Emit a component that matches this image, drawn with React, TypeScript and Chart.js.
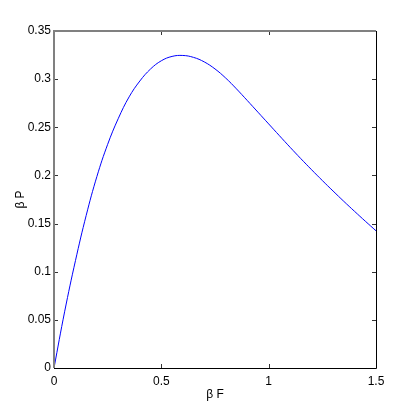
import React, { useEffect, useRef } from "react";
import { Chart, registerables } from "chart.js";

Chart.register(...registerables);

const betaF = [0, 0.05, 0.1, 0.15, 0.2, 0.25, 0.3, 0.35, 0.4, 0.45, 0.5, 0.55, 0.6, 0.65, 0.7, 0.75, 0.8, 0.85, 0.9, 0.95, 1.0, 1.05, 1.1, 1.15, 1.2, 1.25, 1.3, 1.35, 1.4, 1.45, 1.5];
const betaP = [0, 0.059, 0.1115, 0.1585, 0.199, 0.2323, 0.2594, 0.2816, 0.2981, 0.3106, 0.3191, 0.3236, 0.3246, 0.3226, 0.3179, 0.3106, 0.3011, 0.2899, 0.2779, 0.2657, 0.2535, 0.2413, 0.2292, 0.2174, 0.2059, 0.1947, 0.1838, 0.1731, 0.1627, 0.1525, 0.1425];

const xTicks = [0, 0.5, 1, 1.5];
const xTickLabels = ["0", "0.5", "1", "1.5"];
const yTicks = [0, 0.05, 0.1, 0.15, 0.2, 0.25, 0.3, 0.35];
const yTickLabels = ["0", "0.05", "0.1", "0.15", "0.2", "0.25", "0.3", "0.35"];

const FONT = "'Liberation Sans Narrow', 'Liberation Sans', Arial, sans-serif";

const framePlugin = {
  id: "frame",
  afterDraw(chart: any) {
    const { ctx, chartArea } = chart;
    const { left, right, top, bottom } = chartArea;
    const xs = chart.scales.x;
    const ys = chart.scales.y;
    ctx.save();
    const tl = 4;
    ctx.strokeStyle = "#333";
    ctx.lineWidth = 1;
    ctx.beginPath();
    xTicks.forEach((v) => {
      const px = Math.round(xs.getPixelForValue(v)) + 0.5;
      ctx.moveTo(px, bottom);
      ctx.lineTo(px, bottom - tl);
      ctx.moveTo(px, top);
      ctx.lineTo(px, top + tl);
    });
    yTicks.forEach((v) => {
      const py = Math.round(ys.getPixelForValue(v)) + 0.5;
      ctx.moveTo(left, py);
      ctx.lineTo(left + tl, py);
      ctx.moveTo(right, py);
      ctx.lineTo(right - tl, py);
    });
    ctx.stroke();
    ctx.strokeStyle = "#808080";
    ctx.lineWidth = 2;
    ctx.beginPath();
    ctx.moveTo(left, bottom);
    ctx.lineTo(left, top);
    ctx.lineTo(right, top);
    ctx.stroke();
    ctx.strokeStyle = "#000";
    ctx.lineWidth = 1;
    ctx.beginPath();
    ctx.moveTo(Math.round(right) + 0.5, top);
    ctx.lineTo(Math.round(right) + 0.5, Math.round(bottom) + 0.5);
    ctx.lineTo(left, Math.round(bottom) + 0.5);
    ctx.stroke();
    ctx.restore();
  },
};

export default function App() {
  const ref = useRef<HTMLCanvasElement | null>(null);

  useEffect(() => {
    if (!ref.current) return;
    const chart = new Chart(ref.current, {
      type: "line",
      data: {
        datasets: [
          {
            data: betaF.map((x, i) => ({ x, y: betaP[i] })),
            borderColor: "#0000ff",
            borderWidth: 1,
            pointRadius: 0,
            fill: false,
            tension: 0.4,
          },
        ],
      },
      options: {
        animation: false,
        responsive: false,
        devicePixelRatio: 1,
        layout: { padding: { left: 0, right: 39, top: 31, bottom: 0 } },
        plugins: { legend: { display: false }, tooltip: { enabled: false } },
        scales: {
          x: {
            type: "linear",
            min: 0,
            max: 1.5,
            grid: { display: false, drawTicks: false },
            border: { display: false },
            afterBuildTicks: (s: any) => {
              s.ticks = xTicks.map((v) => ({ value: v }));
            },
            afterFit: (s: any) => {
              s.height = 47;
            },
            ticks: {
              padding: 6,
              color: "#000",
              maxRotation: 0,
              font: { family: FONT, size: 12 },
              callback: (v: any) => {
                const i = xTicks.indexOf(Number(v));
                return i >= 0 ? xTickLabels[i] : "";
              },
            },
            title: {
              display: true,
              text: "β F",
              color: "#000",
              font: { family: FONT, size: 12 },
              padding: { top: 0, bottom: 13 },
            },
          },
          y: {
            type: "linear",
            min: 0,
            max: 0.35,
            grid: { display: false, drawTicks: false },
            border: { display: false },
            afterBuildTicks: (s: any) => {
              s.ticks = yTicks.map((v) => ({ value: v }));
            },
            afterFit: (s: any) => {
              s.width = 54;
            },
            ticks: {
              padding: 3,
              color: "#000",
              font: { family: FONT, size: 12 },
              callback: (v: any) => {
                const i = yTicks.findIndex((t) => Math.abs(t - Number(v)) < 1e-9);
                return i >= 0 ? yTickLabels[i] : "";
              },
            },
            title: {
              display: true,
              text: "β P",
              color: "#000",
              font: { family: FONT, size: 12 },
              padding: { top: 13, bottom: 0 },
            },
          },
        },
      },
      plugins: [framePlugin],
    });
    return () => chart.destroy();
  }, []);

  return (
    <div style={{ position: "fixed", left: 0, top: 0, width: 415, height: 415, background: "#fff" }}>
      <canvas ref={ref} width={415} height={415} style={{ display: "block" }} />
    </div>
  );
}
